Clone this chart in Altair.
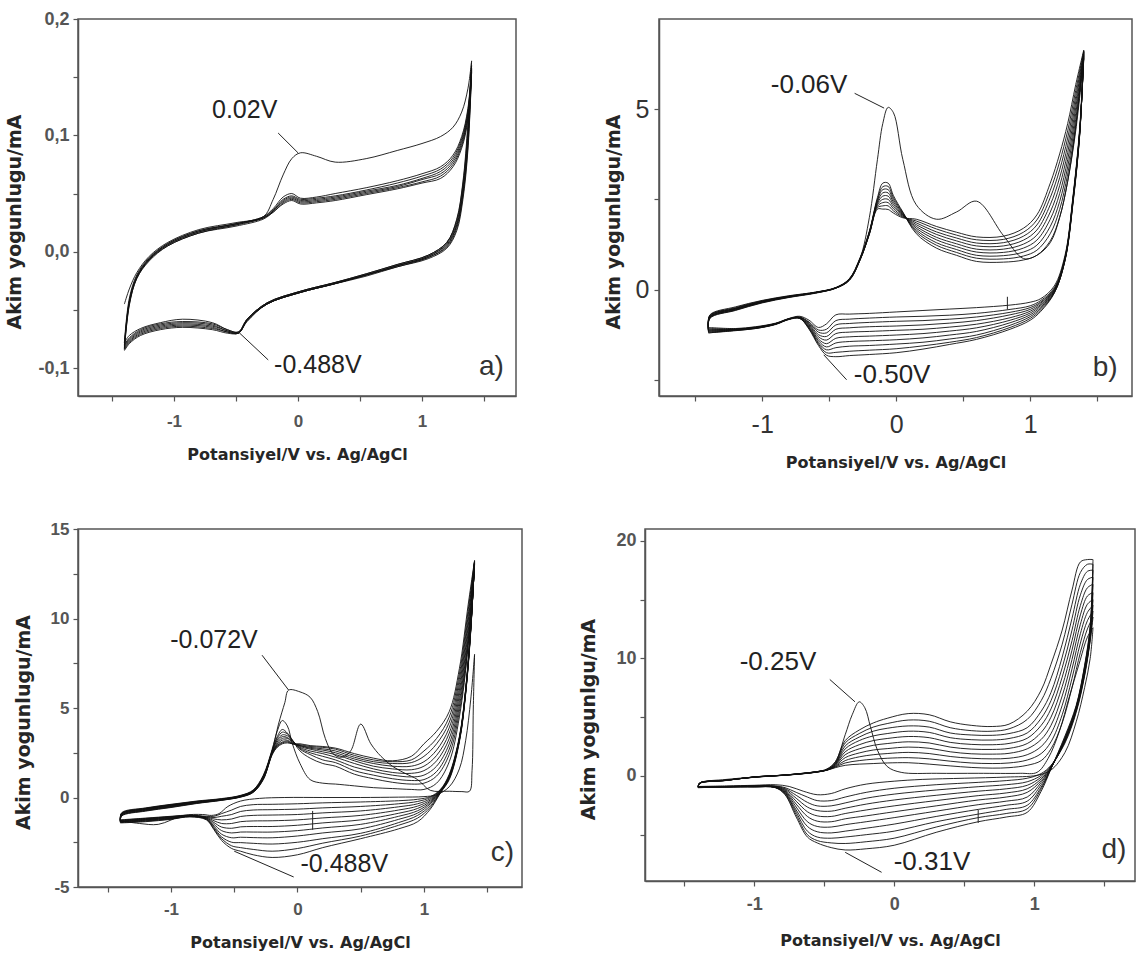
import altair as alt
import pandas as pd

# ------------------------------------------------------------------ panel a
A_FWD_E = [-1.40, -1.36, -1.30, -1.20, -1.05, -0.80, -0.50, -0.28, -0.20, -0.12, -0.05,
           0.02, 0.15, 0.30, 0.55, 0.80, 1.00, 1.15, 1.25, 1.32, 1.37, 1.40]
A_REV_E = [1.40, 1.37, 1.33, 1.28, 1.20, 1.05, 0.80, 0.55, 0.28, 0.02, -0.25, -0.41, -0.48,
           -0.57, -0.69, -0.93, -1.11, -1.27, -1.36, -1.40]
A_FWD_I = [
    [-0.045, -0.032, -0.018, -0.004, 0.008, 0.019, 0.025, 0.030, 0.045, 0.066, 0.080, 0.085, 0.082, 0.077, 0.080, 0.087, 0.093, 0.099, 0.107, 0.120, 0.140, 0.164],
    [-0.078, -0.040, -0.020, -0.005, 0.007, 0.018, 0.024, 0.030, 0.037, 0.047, 0.050, 0.046, 0.047, 0.050, 0.055, 0.061, 0.067, 0.073, 0.083, 0.099, 0.123, 0.160],
    [-0.080, -0.042, -0.021, -0.006, 0.007, 0.018, 0.024, 0.030, 0.036, 0.045, 0.048, 0.045, 0.046, 0.048, 0.053, 0.059, 0.065, 0.071, 0.081, 0.097, 0.121, 0.158],
    [-0.081, -0.043, -0.022, -0.006, 0.006, 0.017, 0.024, 0.029, 0.035, 0.044, 0.047, 0.044, 0.045, 0.047, 0.052, 0.057, 0.063, 0.069, 0.079, 0.095, 0.119, 0.157],
    [-0.082, -0.044, -0.022, -0.007, 0.006, 0.017, 0.023, 0.029, 0.035, 0.043, 0.046, 0.043, 0.044, 0.046, 0.051, 0.056, 0.062, 0.067, 0.077, 0.093, 0.117, 0.156],
    [-0.083, -0.045, -0.023, -0.007, 0.005, 0.016, 0.023, 0.029, 0.034, 0.042, 0.045, 0.042, 0.043, 0.045, 0.050, 0.055, 0.060, 0.065, 0.075, 0.091, 0.115, 0.155],
    [-0.084, -0.046, -0.023, -0.008, 0.005, 0.016, 0.022, 0.028, 0.034, 0.041, 0.044, 0.041, 0.042, 0.044, 0.049, 0.054, 0.059, 0.063, 0.073, 0.089, 0.113, 0.154],
]
A_REV_I = [
    [0.164, 0.110, 0.060, 0.028, 0.008, -0.003, -0.011, -0.019, -0.027, -0.034, -0.044, -0.058, -0.069, -0.067, -0.061, -0.058, -0.061, -0.066, -0.072, -0.078],
    [0.160, 0.105, 0.058, 0.027, 0.008, -0.003, -0.011, -0.019, -0.027, -0.034, -0.044, -0.058, -0.069, -0.067, -0.062, -0.060, -0.062, -0.067, -0.074, -0.080],
    [0.158, 0.100, 0.055, 0.025, 0.007, -0.004, -0.012, -0.020, -0.027, -0.034, -0.044, -0.058, -0.069, -0.068, -0.063, -0.061, -0.063, -0.068, -0.075, -0.081],
    [0.157, 0.097, 0.052, 0.023, 0.006, -0.004, -0.012, -0.020, -0.028, -0.035, -0.045, -0.059, -0.070, -0.068, -0.064, -0.062, -0.064, -0.069, -0.076, -0.082],
    [0.156, 0.094, 0.050, 0.022, 0.005, -0.005, -0.012, -0.020, -0.028, -0.035, -0.045, -0.059, -0.070, -0.069, -0.065, -0.063, -0.065, -0.070, -0.077, -0.083],
    [0.155, 0.090, 0.048, 0.020, 0.004, -0.005, -0.013, -0.020, -0.028, -0.035, -0.045, -0.059, -0.070, -0.069, -0.066, -0.064, -0.066, -0.071, -0.078, -0.084],
    [0.154, 0.087, 0.045, 0.018, 0.003, -0.006, -0.013, -0.021, -0.028, -0.035, -0.045, -0.060, -0.070, -0.070, -0.067, -0.065, -0.067, -0.072, -0.079, -0.085],
]
A_YTICKS = [-0.1, -0.05, 0, 0.05, 0.1, 0.15, 0.2]
A_NOTES = [("0.02V", -0.43, 0.122), ("-0.488V", 0.16, -0.097)]
A_LEADERS = [(-0.16, 0.102, 0.0, 0.085), (-0.24, -0.093, -0.48, -0.069)]
A_TAG = ("a)", 1.56, -0.099)

# ------------------------------------------------------------------ panel b
B_FWD_E = [-1.40, -1.39, -1.20, -1.00, -0.80, -0.60, -0.45, -0.35, -0.27, -0.20, -0.14, -0.10, -0.06,
           -0.02, 0.05, 0.15, 0.30, 0.45, 0.60, 0.80, 0.95, 1.05, 1.15, 1.22, 1.28, 1.34, 1.40]
B_REV_E = [1.40, 1.37, 1.32, 1.26, 1.18, 1.08, 1.00, 0.85, 0.60, 0.40, 0.20, 0.00, -0.20, -0.35,
           -0.45, -0.52, -0.58, -0.65, -0.72, -0.80, -0.90, -1.05, -1.20, -1.40]
B_FWD_I = [
    [-1.15, -0.72, -0.52, -0.33, -0.19, -0.08, 0.05, 0.28, 0.85, 2.00, 3.60, 4.60, 5.05, 4.90, 3.60, 2.35, 1.95, 2.15, 2.45, 1.50, 0.86, 0.95, 1.30, 2.00, 3.00, 4.50, 6.60],
    [-1.05, -0.70, -0.48, -0.30, -0.17, -0.07, 0.06, 0.30, 0.88, 1.62, 2.55, 2.95, 2.95, 2.60, 2.15, 1.55, 1.15, 0.95, 0.78, 0.76, 0.82, 0.95, 1.35, 2.00, 3.00, 4.40, 6.40],
    [-1.08, -0.72, -0.50, -0.31, -0.18, -0.07, 0.05, 0.29, 0.86, 1.60, 2.50, 2.85, 2.86, 2.54, 2.13, 1.60, 1.23, 1.03, 0.87, 0.85, 0.93, 1.09, 1.55, 2.22, 3.20, 4.56, 6.43],
    [-1.10, -0.74, -0.52, -0.32, -0.19, -0.08, 0.05, 0.28, 0.85, 1.60, 2.47, 2.77, 2.77, 2.48, 2.11, 1.65, 1.30, 1.11, 0.95, 0.94, 1.04, 1.23, 1.75, 2.44, 3.40, 4.72, 6.46],
    [-1.12, -0.75, -0.53, -0.33, -0.19, -0.08, 0.05, 0.28, 0.84, 1.58, 2.43, 2.68, 2.68, 2.42, 2.09, 1.70, 1.38, 1.19, 1.04, 1.03, 1.15, 1.37, 1.95, 2.66, 3.60, 4.88, 6.49],
    [-1.13, -0.76, -0.54, -0.34, -0.20, -0.08, 0.05, 0.27, 0.84, 1.57, 2.39, 2.59, 2.59, 2.36, 2.07, 1.75, 1.45, 1.27, 1.12, 1.12, 1.26, 1.51, 2.15, 2.88, 3.80, 5.04, 6.52],
    [-1.15, -0.77, -0.55, -0.35, -0.20, -0.09, 0.04, 0.27, 0.83, 1.56, 2.35, 2.50, 2.50, 2.30, 2.05, 1.80, 1.53, 1.35, 1.21, 1.21, 1.37, 1.65, 2.35, 3.10, 4.00, 5.20, 6.55],
    [-1.16, -0.78, -0.56, -0.35, -0.21, -0.09, 0.04, 0.26, 0.82, 1.55, 2.31, 2.41, 2.41, 2.24, 2.03, 1.85, 1.60, 1.43, 1.29, 1.30, 1.48, 1.79, 2.55, 3.32, 4.20, 5.36, 6.58],
    [-1.18, -0.79, -0.57, -0.36, -0.21, -0.09, 0.04, 0.26, 0.82, 1.54, 2.27, 2.32, 2.32, 2.18, 2.01, 1.90, 1.68, 1.51, 1.38, 1.39, 1.59, 1.93, 2.75, 3.54, 4.40, 5.52, 6.61],
    [-1.20, -0.80, -0.58, -0.37, -0.22, -0.10, 0.04, 0.25, 0.81, 1.53, 2.23, 2.23, 2.22, 2.12, 1.99, 1.95, 1.75, 1.59, 1.46, 1.48, 1.70, 2.07, 2.95, 3.76, 4.60, 5.68, 6.64],
]
B_REV_I = [
    [6.60, 4.50, 2.60, 0.95, 0.10, -0.25, -0.35, -0.43, -0.50, -0.54, -0.58, -0.62, -0.66, -0.68, -0.70, -0.95, -1.05, -0.85, -0.74, -0.80, -0.93, -1.03, -1.08, -1.05],
    [6.40, 4.40, 2.55, 0.90, 0.05, -0.30, -0.45, -0.55, -0.66, -0.71, -0.74, -0.76, -0.79, -0.82, -0.86, -1.10, -1.12, -0.90, -0.76, -0.81, -0.94, -1.04, -1.09, -1.08],
    [6.43, 4.42, 2.53, 0.88, 0.02, -0.34, -0.50, -0.63, -0.76, -0.82, -0.86, -0.88, -0.91, -0.94, -0.98, -1.20, -1.18, -0.92, -0.77, -0.81, -0.94, -1.05, -1.10, -1.10],
    [6.46, 4.40, 2.52, 0.86, 0.00, -0.37, -0.55, -0.70, -0.86, -0.93, -0.98, -1.01, -1.03, -1.06, -1.10, -1.30, -1.25, -0.95, -0.77, -0.81, -0.95, -1.05, -1.10, -1.12],
    [6.49, 4.38, 2.50, 0.85, -0.02, -0.41, -0.60, -0.78, -0.96, -1.04, -1.10, -1.13, -1.16, -1.18, -1.22, -1.40, -1.31, -0.98, -0.78, -0.81, -0.95, -1.06, -1.11, -1.13],
    [6.52, 4.36, 2.49, 0.84, -0.04, -0.44, -0.65, -0.85, -1.06, -1.15, -1.22, -1.26, -1.29, -1.31, -1.35, -1.50, -1.37, -1.01, -0.78, -0.82, -0.95, -1.06, -1.12, -1.15],
    [6.55, 4.35, 2.47, 0.83, -0.06, -0.48, -0.70, -0.92, -1.16, -1.26, -1.34, -1.39, -1.42, -1.44, -1.48, -1.59, -1.42, -1.04, -0.79, -0.82, -0.96, -1.07, -1.12, -1.16],
    [6.58, 4.33, 2.45, 0.82, -0.08, -0.52, -0.75, -0.99, -1.26, -1.37, -1.46, -1.51, -1.55, -1.57, -1.61, -1.67, -1.47, -1.06, -0.79, -0.82, -0.96, -1.07, -1.13, -1.18],
    [6.61, 4.31, 2.43, 0.81, -0.09, -0.56, -0.80, -1.05, -1.33, -1.46, -1.56, -1.64, -1.68, -1.71, -1.74, -1.75, -1.51, -1.08, -0.80, -0.82, -0.96, -1.08, -1.13, -1.20],
    [6.64, 4.30, 2.40, 0.80, -0.10, -0.60, -0.85, -1.10, -1.38, -1.52, -1.65, -1.75, -1.80, -1.83, -1.86, -1.82, -1.55, -1.10, -0.80, -0.83, -0.97, -1.08, -1.14, -1.20],
]
B_YTICKS = [-2.5, 0, 2.5, 5]
B_NOTES = [("-0.06V", -0.65, 5.67), ("-0.50V", -0.03, -2.36)]
B_LEADERS = [(-0.31, 5.44, -0.09, 5.03), (-0.37, -2.5, -0.54, -1.81), (0.83, -0.2, 0.83, -0.55)]
B_TAG = ("b)", 1.56, -2.17)

# ------------------------------------------------------------------ panel c
C1_FWD_E = [-1.40, -1.39, -1.20, -1.00, -0.80, -0.60, -0.45, -0.35, -0.27, -0.20, -0.15, -0.10, -0.07,
            0.02, 0.10, 0.16, 0.22, 0.28, 0.35, 0.42, 0.50, 0.58, 0.66, 0.75, 0.85, 0.95, 1.05, 1.20,
            1.30, 1.36, 1.38, 1.39, 1.40]
C1_FWD_I = [-1.30, -0.90, -0.62, -0.42, -0.25, -0.12, 0.05, 0.35, 1.10, 2.60, 4.10, 5.30, 6.00, 5.90,
            5.60, 4.80, 3.30, 2.45, 2.25, 2.60, 4.10, 3.00, 2.30, 1.75, 1.35, 1.00, 0.40, 0.35, 0.33,
            0.35, 1.50, 5.00, 8.00]
C1_REV_E = [1.40, 1.37, 1.33, 1.28, 1.20, 1.10, 1.00, 0.80, 0.50, 0.20, -0.10, -0.30, -0.45, -0.55,
            -0.62, -0.68, -0.75, -0.90, -1.10, -1.25, -1.40]
C1_REV_I = [8.0, 5.5, 3.2, 1.6, 0.6, 0.15, 0.05, 0.02, 0.0, 0.0, 0.0, -0.05, -0.2, -0.5, -0.9, -1.0,
            -0.95, -1.0, -1.5, -1.45, -1.3]
C_FWD_E = [-1.40, -1.39, -1.20, -1.00, -0.80, -0.60, -0.45, -0.35, -0.27, -0.20, -0.16, -0.12, -0.08,
           -0.04, 0.02, 0.10, 0.20, 0.30, 0.45, 0.60, 0.75, 0.90, 1.00, 1.10, 1.20, 1.28, 1.35, 1.40]
C_REV_E = [1.40, 1.37, 1.33, 1.28, 1.20, 1.13, 1.05, 0.95, 0.80, 0.50, 0.20, 0.00, -0.20, -0.35, -0.45,
           -0.52, -0.60, -0.66, -0.72, -0.85, -1.00, -1.20, -1.40]
C_FWD_I = [
    [-1.30, -0.85, -0.58, -0.38, -0.20, -0.06, 0.12, 0.42, 1.25, 2.70, 3.70, 4.30, 4.00, 3.00, 1.90, 1.00, 0.80, 0.75, 0.65, 0.55, 0.50, 0.45, 0.45, 0.80, 2.00, 4.50, 8.50, 13.0],
    [-1.25, -0.88, -0.60, -0.40, -0.22, -0.08, 0.10, 0.40, 1.20, 2.60, 3.40, 3.80, 3.60, 3.20, 2.60, 2.20, 1.90, 1.75, 1.30, 1.05, 0.85, 0.75, 0.80, 1.20, 2.40, 4.80, 8.60, 13.0],
    [-1.27, -0.90, -0.62, -0.42, -0.23, -0.09, 0.09, 0.38, 1.18, 2.60, 3.30, 3.65, 3.55, 3.20, 2.70, 2.40, 2.10, 1.95, 1.50, 1.25, 1.05, 0.95, 1.00, 1.45, 2.70, 5.10, 8.80, 13.05],
    [-1.29, -0.92, -0.64, -0.44, -0.25, -0.10, 0.08, 0.37, 1.15, 2.55, 3.20, 3.50, 3.45, 3.20, 2.75, 2.50, 2.30, 2.10, 1.70, 1.45, 1.25, 1.15, 1.25, 1.75, 3.00, 5.40, 9.00, 13.1],
    [-1.31, -0.94, -0.66, -0.46, -0.26, -0.11, 0.07, 0.35, 1.12, 2.50, 3.10, 3.40, 3.35, 3.15, 2.80, 2.60, 2.45, 2.25, 1.90, 1.60, 1.40, 1.35, 1.50, 2.05, 3.30, 5.70, 9.30, 13.1],
    [-1.33, -0.96, -0.68, -0.48, -0.28, -0.12, 0.06, 0.34, 1.10, 2.50, 3.00, 3.30, 3.30, 3.10, 2.85, 2.70, 2.55, 2.40, 2.05, 1.75, 1.60, 1.55, 1.75, 2.35, 3.60, 6.00, 9.60, 13.15],
    [-1.35, -0.98, -0.70, -0.50, -0.29, -0.13, 0.05, 0.32, 1.08, 2.45, 2.95, 3.20, 3.20, 3.05, 2.90, 2.75, 2.65, 2.50, 2.15, 1.90, 1.75, 1.75, 2.00, 2.65, 3.90, 6.30, 9.90, 13.15],
    [-1.36, -1.00, -0.72, -0.52, -0.31, -0.14, 0.04, 0.31, 1.05, 2.45, 2.90, 3.10, 3.15, 3.00, 2.90, 2.80, 2.72, 2.60, 2.25, 2.00, 1.90, 1.95, 2.30, 3.00, 4.20, 6.60, 10.2, 13.2],
    [-1.38, -1.02, -0.74, -0.54, -0.32, -0.15, 0.03, 0.30, 1.02, 2.40, 2.85, 3.05, 3.10, 3.00, 2.95, 2.85, 2.80, 2.70, 2.35, 2.10, 2.00, 2.10, 2.60, 3.30, 4.50, 6.90, 10.5, 13.2],
    [-1.40, -1.04, -0.76, -0.56, -0.34, -0.16, 0.02, 0.28, 1.00, 2.40, 2.80, 3.00, 3.05, 3.00, 3.00, 2.90, 2.85, 2.76, 2.45, 2.20, 2.05, 2.30, 3.00, 3.70, 4.80, 7.20, 10.8, 13.25],
]
C_REV_I = [
    [13.0, 9.6, 6.1, 3.4, 1.3, 0.45, 0.05, -0.10, -0.18, -0.25, -0.30, -0.35, -0.38, -0.40, -0.50, -0.70, -0.90, -1.05, -1.05, -0.98, -1.05, -1.15, -1.25],
    [13.0, 9.55, 6.05, 3.35, 1.25, 0.42, 0.00, -0.22, -0.35, -0.50, -0.58, -0.65, -0.68, -0.70, -0.78, -0.95, -1.05, -1.12, -1.08, -1.00, -1.07, -1.17, -1.27],
    [13.05, 9.5, 6.0, 3.3, 1.2, 0.40, -0.07, -0.35, -0.52, -0.75, -0.86, -0.95, -0.98, -1.00, -1.06, -1.20, -1.25, -1.20, -1.10, -1.01, -1.08, -1.19, -1.29],
    [13.1, 9.5, 6.0, 3.3, 1.2, 0.38, -0.14, -0.48, -0.70, -1.00, -1.14, -1.25, -1.30, -1.31, -1.35, -1.45, -1.45, -1.30, -1.12, -1.02, -1.10, -1.21, -1.31],
    [13.1, 9.45, 5.95, 3.25, 1.15, 0.36, -0.21, -0.61, -0.88, -1.25, -1.42, -1.55, -1.62, -1.62, -1.64, -1.72, -1.65, -1.40, -1.14, -1.03, -1.12, -1.23, -1.33],
    [13.15, 9.45, 5.95, 3.25, 1.15, 0.34, -0.28, -0.74, -1.05, -1.50, -1.70, -1.85, -1.93, -1.93, -1.93, -1.98, -1.85, -1.50, -1.16, -1.04, -1.14, -1.25, -1.35],
    [13.15, 9.4, 5.9, 3.2, 1.1, 0.32, -0.35, -0.87, -1.22, -1.75, -1.98, -2.15, -2.25, -2.24, -2.22, -2.25, -2.05, -1.60, -1.18, -1.05, -1.16, -1.27, -1.36],
    [13.2, 9.4, 5.9, 3.2, 1.1, 0.30, -0.45, -1.00, -1.40, -2.00, -2.30, -2.50, -2.60, -2.56, -2.52, -2.50, -2.20, -1.68, -1.20, -1.06, -1.18, -1.30, -1.38],
    [13.2, 9.35, 5.85, 3.15, 1.05, 0.28, -0.55, -1.15, -1.55, -2.15, -2.55, -2.85, -3.00, -2.90, -2.80, -2.70, -2.30, -1.75, -1.22, -1.07, -1.20, -1.32, -1.40],
    [13.25, 9.3, 5.8, 3.1, 1.0, 0.25, -0.65, -1.35, -1.75, -2.30, -2.80, -3.20, -3.35, -3.20, -3.00, -2.85, -2.40, -1.80, -1.25, -1.08, -1.22, -1.35, -1.42],
]
C_YTICKS = [-5, -2.5, 0, 2.5, 5, 7.5, 10, 12.5, 15]
C_NOTES = [("-0.072V", -0.66, 8.78), ("-0.488V", 0.37, -3.72)]
C_LEADERS = [(-0.28, 7.95, -0.07, 6.0), (-0.03, -4.44, -0.5, -3.0), (0.12, -0.75, 0.12, -1.8)]
C_TAG = ("c)", 1.62, -3.1)

# ------------------------------------------------------------------ panel d
D1_FWD_E = [-1.40, -1.39, -1.20, -1.00, -0.80, -0.65, -0.55, -0.48, -0.42, -0.35, -0.30, -0.25, -0.21,
            -0.17, -0.12, -0.05, 0.05, 0.30, 0.60, 0.90, 1.02, 1.10, 1.18, 1.25, 1.32, 1.38, 1.42]
D1_FWD_I = [-0.90, -0.60, -0.30, -0.10, 0.05, 0.20, 0.35, 0.60, 1.20, 3.50, 5.20, 6.30, 5.80, 4.20,
            2.20, 0.80, 0.30, 0.22, 0.22, 0.22, 0.30, 1.50, 3.80, 6.70, 9.50, 11.8, 12.6]
D1_REV_E = [1.42, 1.40, 1.36, 1.30, 1.22, 1.12, 1.02, 0.80, 0.50, 0.20, 0.00, -0.20, -0.35, -0.45,
            -0.55, -0.65, -0.75, -0.85, -1.00, -1.20, -1.40]
D1_REV_I = [12.6, 10.0, 7.5, 4.6, 2.0, 0.5, 0.05, -0.10, -0.20, -0.30, -0.45, -0.70, -1.10, -1.50,
            -1.60, -1.30, -0.90, -0.75, -0.80, -0.85, -0.90]
D_FWD_E = [-1.40, -1.39, -1.20, -1.00, -0.80, -0.65, -0.55, -0.48, -0.42, -0.35, -0.25, -0.15, -0.05,
           0.10, 0.25, 0.40, 0.55, 0.70, 0.82, 0.95, 1.05, 1.12, 1.20, 1.27, 1.33, 1.38, 1.42]
D_REV_E = [1.42, 1.40, 1.36, 1.30, 1.22, 1.12, 1.05, 0.95, 0.80, 0.60, 0.30, 0.00, -0.20, -0.35, -0.45,
           -0.55, -0.62, -0.70, -0.78, -0.85, -1.00, -1.20, -1.40]
D_FWD_I = [
    [-0.90, -0.60, -0.36, -0.12, 0.04, 0.18, 0.32, 0.48, 0.70, 0.90, 1.00, 1.05, 1.10, 1.12, 1.00, 0.85, 0.72, 0.66, 0.70, 0.90, 1.30, 2.30, 4.50, 7.50, 10.5, 12.5, 13.5],
    [-0.92, -0.61, -0.36, -0.11, 0.04, 0.19, 0.33, 0.49, 0.75, 1.10, 1.30, 1.42, 1.50, 1.55, 1.45, 1.25, 1.10, 1.05, 1.10, 1.35, 1.90, 2.90, 5.20, 8.30, 11.3, 13.2, 14.0],
    [-0.93, -0.62, -0.37, -0.11, 0.05, 0.19, 0.33, 0.50, 0.80, 1.30, 1.62, 1.80, 1.90, 2.00, 1.90, 1.65, 1.50, 1.45, 1.50, 1.80, 2.50, 3.60, 6.00, 9.10, 12.1, 13.9, 14.5],
    [-0.94, -0.62, -0.37, -0.10, 0.05, 0.20, 0.34, 0.50, 0.85, 1.55, 1.95, 2.20, 2.32, 2.45, 2.35, 2.05, 1.88, 1.85, 1.92, 2.30, 3.10, 4.30, 6.80, 9.90, 12.9, 14.6, 15.0],
    [-0.95, -0.63, -0.37, -0.10, 0.05, 0.20, 0.35, 0.51, 0.90, 1.80, 2.30, 2.60, 2.75, 2.90, 2.80, 2.45, 2.28, 2.25, 2.34, 2.75, 3.70, 5.00, 7.60, 10.7, 13.7, 15.3, 15.6],
    [-0.96, -0.63, -0.38, -0.10, 0.05, 0.21, 0.35, 0.52, 0.95, 2.05, 2.65, 3.00, 3.18, 3.35, 3.25, 2.85, 2.68, 2.65, 2.76, 3.20, 4.30, 5.70, 8.40, 11.5, 14.5, 16.0, 16.3],
    [-0.97, -0.64, -0.38, -0.09, 0.06, 0.21, 0.36, 0.52, 1.00, 2.30, 3.00, 3.40, 3.60, 3.80, 3.70, 3.25, 3.08, 3.05, 3.18, 3.65, 4.90, 6.40, 9.20, 12.4, 15.4, 16.7, 16.9],
    [-0.98, -0.64, -0.38, -0.09, 0.06, 0.22, 0.36, 0.53, 1.05, 2.55, 3.30, 3.80, 4.05, 4.25, 4.15, 3.65, 3.48, 3.45, 3.60, 4.10, 5.50, 7.10, 10.1, 13.4, 16.3, 17.4, 17.5],
    [-0.99, -0.65, -0.39, -0.09, 0.06, 0.22, 0.37, 0.54, 1.10, 2.80, 3.60, 4.15, 4.45, 4.75, 4.65, 4.10, 3.85, 3.80, 4.00, 4.80, 6.40, 8.30, 11.2, 14.6, 17.3, 18.0, 18.0],
    [-1.00, -0.65, -0.39, -0.08, 0.06, 0.23, 0.37, 0.55, 1.20, 3.00, 3.90, 4.50, 4.90, 5.30, 5.20, 4.60, 4.30, 4.20, 4.40, 5.50, 7.30, 9.50, 12.4, 15.8, 18.2, 18.4, 18.4],
]
D_REV_I = [
    [13.5, 11.5, 8.5, 5.4, 2.8, 0.90, 0.20, -0.20, -0.40, -0.55, -0.75, -1.05, -1.40, -1.80, -2.10, -2.10, -1.80, -1.40, -1.00, -0.85, -0.85, -0.90, -0.92],
    [14.0, 11.6, 8.6, 5.5, 2.9, 0.85, 0.05, -0.50, -0.75, -0.92, -1.20, -1.55, -1.90, -2.30, -2.55, -2.55, -2.25, -1.65, -1.08, -0.88, -0.86, -0.90, -0.93],
    [14.5, 11.7, 8.7, 5.6, 2.95, 0.80, -0.10, -0.80, -1.10, -1.30, -1.65, -2.05, -2.40, -2.75, -3.00, -2.95, -2.65, -1.90, -1.15, -0.90, -0.87, -0.91, -0.94],
    [15.0, 11.8, 8.8, 5.6, 3.0, 0.75, -0.25, -1.10, -1.45, -1.68, -2.10, -2.55, -2.90, -3.20, -3.45, -3.40, -3.05, -2.15, -1.22, -0.92, -0.88, -0.92, -0.95],
    [15.6, 11.9, 8.9, 5.7, 3.05, 0.70, -0.40, -1.40, -1.80, -2.05, -2.55, -3.05, -3.40, -3.65, -3.90, -3.85, -3.45, -2.40, -1.29, -0.94, -0.89, -0.92, -0.96],
    [16.3, 12.1, 9.0, 5.75, 3.1, 0.68, -0.55, -1.80, -2.15, -2.45, -3.00, -3.55, -3.90, -4.15, -4.35, -4.30, -3.90, -2.65, -1.36, -0.96, -0.90, -0.93, -0.97],
    [16.9, 12.2, 9.1, 5.8, 3.15, 0.66, -0.75, -2.15, -2.50, -2.85, -3.45, -4.10, -4.45, -4.70, -4.85, -4.75, -4.30, -2.90, -1.43, -0.97, -0.91, -0.94, -0.98],
    [17.5, 12.4, 9.2, 5.85, 3.2, 0.64, -0.95, -2.50, -2.85, -3.25, -3.90, -4.70, -5.00, -5.20, -5.30, -5.20, -4.70, -3.10, -1.48, -0.98, -0.92, -0.94, -0.99],
    [18.0, 12.6, 9.3, 5.9, 3.3, 0.62, -1.10, -2.80, -3.20, -3.55, -4.35, -5.30, -5.60, -5.75, -5.70, -5.50, -5.00, -3.30, -1.55, -0.99, -0.93, -0.95, -1.00],
    [18.4, 12.8, 9.4, 6.0, 3.4, 0.60, -1.30, -3.10, -3.50, -3.90, -4.80, -5.90, -6.20, -6.30, -6.10, -5.70, -5.20, -3.50, -1.60, -1.00, -0.95, -0.95, -1.00],
]
D_YTICKS = [-5, 0, 5, 10, 15, 20]
D_NOTES = [("-0.25V", -0.83, 9.7), ("-0.31V", 0.27, -7.3)]
D_LEADERS = [(-0.46, 8.2, -0.28, 6.3), (-0.09, -8.2, -0.35, -6.5), (0.60, -2.9, 0.60, -4.0)]
D_TAG = ("d)", 1.57, -6.3)

X_TICKS = [-1.5, -1, -0.5, 0, 0.5, 1, 1.5]
X_TITLE = "Potansiyel/V vs. Ag/AgCl"

XLAB = "datum.value == -1 ? '-1' : datum.value == 0 ? '0' : datum.value == 1 ? '1' : ''"
A_YLAB = ("datum.value == 0.2 ? '0,2' : datum.value == 0.1 ? '0,1' : datum.value == 0 ? '0,0' : "
          "datum.value == -0.1 ? '-0,1' : ''")
B_YLAB = "datum.value == 5 ? '5' : datum.value == 0 ? '0' : ''"
C_YLAB = ("datum.value == 15 ? '15' : datum.value == 10 ? '10' : datum.value == 5 ? '5' : "
          "datum.value == 0 ? '0' : datum.value == -5 ? '-5' : ''")
D_YLAB = "datum.value == 20 ? '20' : datum.value == 10 ? '10' : datum.value == 0 ? '0' : ''"


def cycles_frame(segments):
    rows = []
    for c, (fe, fi, re_, ri) in enumerate(segments):
        es = list(fe) + list(re_)
        vs = list(fi) + list(ri)
        for k, (e, v) in enumerate(zip(es, vs)):
            rows.append({"cycle": c, "k": k, "E": e, "I": v})
    return pd.DataFrame(rows)


COMMON = dict(grid=False, domainColor="#555", domainWidth=1.5, tickColor="#555", tickWidth=1.2,
              tickSize=5, labelFlush=False, labelOverlap=False, labelFont="Liberation Sans",
              titleFont="DejaVu Sans", titleFontWeight="bold", titleColor="#262626")


def panel(segments, xdom, ydom, yticks, ylab, width, height, ytitle, ystyle, xstyle,
          notes, leaders, tag, note_size):
    df = cycles_frame(segments)
    x = alt.X("E:Q", scale=alt.Scale(domain=xdom, nice=False, zero=False),
              axis=alt.Axis(values=X_TICKS, labelExpr=XLAB, title=X_TITLE, titleFontSize=16,
                            **COMMON, **xstyle))
    y = alt.Y("I:Q", scale=alt.Scale(domain=ydom, nice=False, zero=False),
              axis=alt.Axis(values=yticks, labelExpr=ylab, title=ytitle, titleFontSize=19,
                            titleY=height / 2 + 14, **COMMON, **ystyle))
    lines = alt.Chart(df).mark_line(color="#111", strokeWidth=0.9, interpolate="catmull-rom").encode(
        x=x, y=y, detail="cycle:N", order="k:Q")
    ndf = pd.DataFrame([{"label": t, "E": e, "I": i} for t, e, i in notes])
    texts = alt.Chart(ndf).mark_text(font="Liberation Sans", fontSize=note_size, color="#222",
                                     align="center", baseline="middle").encode(
        x=x, y=y, text="label:N")
    ldf = pd.DataFrame([{"E": a, "I": b, "E2": c, "I2": d} for a, b, c, d in leaders])
    rules = alt.Chart(ldf).mark_rule(color="#222", strokeWidth=1).encode(
        x=x, y=y, x2="E2:Q", y2="I2:Q")
    tdf = pd.DataFrame([{"label": tag[0], "E": tag[1], "I": tag[2]}])
    tagm = alt.Chart(tdf).mark_text(font="Liberation Sans", fontSize=28, color="#333",
                                    align="center", baseline="middle").encode(
        x=x, y=y, text="label:N")
    return alt.layer(lines, rules, texts, tagm).properties(width=width, height=height)


pa = panel([(A_FWD_E, f, A_REV_E, r) for f, r in zip(A_FWD_I, A_REV_I)],
           [-1.774, 1.758], [-0.124, 0.2], A_YTICKS, A_YLAB, 438, 377, "Akim yogunlugu/mA",
           dict(labelFontSize=18, labelFontWeight="bold", labelColor="#555", labelPadding=4,
                minExtent=37, maxExtent=37, titlePadding=17),
           dict(labelFontSize=17, labelFontWeight="bold", labelColor="#555", labelPadding=12,
                titlePadding=17),
           A_NOTES, A_LEADERS, A_TAG, 25)

pb = panel([(B_FWD_E, f, B_REV_E, r) for f, r in zip(B_FWD_I, B_REV_I)],
           [-1.77, 1.76], [-2.95, 7.5], B_YTICKS, B_YLAB, 473, 377, "Akim yogunlugu/mA",
           dict(labelFontSize=25, labelFontWeight="normal", labelColor="#333", labelPadding=5,
                minExtent=26, maxExtent=26, titlePadding=10),
           dict(labelFontSize=25, labelFontWeight="normal", labelColor="#333", labelPadding=11,
                titlePadding=17),
           B_NOTES, B_LEADERS, B_TAG, 26)

pc = panel([(C1_FWD_E, C1_FWD_I, C1_REV_E, C1_REV_I)] +
           [(C_FWD_E, f, C_REV_E, r) for f, r in zip(C_FWD_I, C_REV_I)],
           [-1.735, 1.775], [-5, 15], C_YTICKS, C_YLAB, 444, 358, "Akim yogunlugu/mA",
           dict(labelFontSize=17, labelFontWeight="bold", labelColor="#555", labelPadding=4,
                minExtent=35, maxExtent=35, titlePadding=10),
           dict(labelFontSize=17, labelFontWeight="bold", labelColor="#555", labelPadding=9,
                titlePadding=17),
           C_NOTES, C_LEADERS, C_TAG, 25)

pd_ = panel([(D1_FWD_E, D1_FWD_I, D1_REV_E, D1_REV_I)] +
            [(D_FWD_E, f, D_REV_E, r) for f, r in zip(D_FWD_I, D_REV_I)],
            [-1.78, 1.72], [-8.94, 21.0], D_YTICKS, D_YLAB, 490, 352, "Akim yogunlgu/mA",
            dict(labelFontSize=18, labelFontWeight="bold", labelColor="#555", labelPadding=4,
                 minExtent=37, maxExtent=37, titlePadding=10),
            dict(labelFontSize=18, labelFontWeight="bold", labelColor="#555", labelPadding=9,
                 titlePadding=19),
            D_NOTES, D_LEADERS, D_TAG, 26)

row1 = alt.hconcat(pa, pb, spacing=86)
row2 = alt.hconcat(pc, pd_, spacing=55)

chart = alt.concat(row1, row2, columns=1, spacing=48, align="none").properties(
    padding={"left": 4, "top": 9, "right": 0, "bottom": 0}
).configure(background="white").configure_view(stroke="#555", strokeWidth=1.5)

chart.save("out.html", embed_options={"renderer": "svg", "actions": False})
